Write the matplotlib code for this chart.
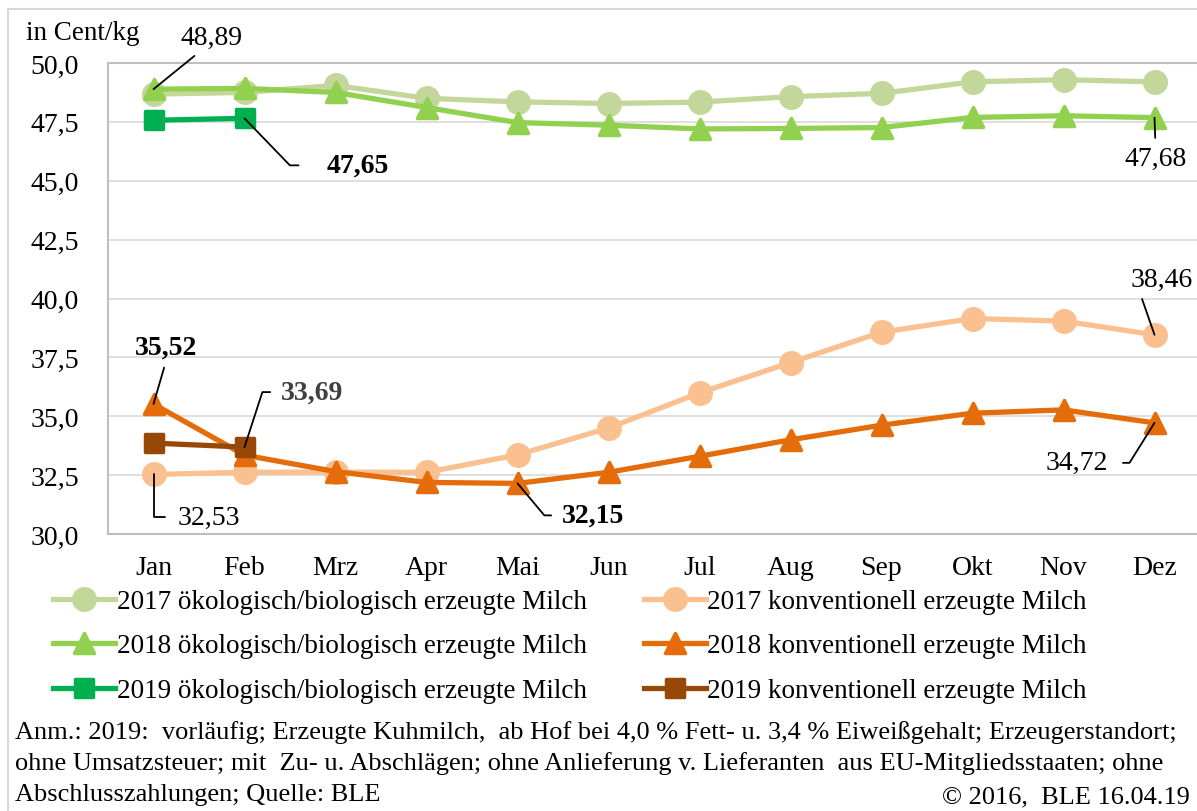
import numpy as np
import matplotlib
matplotlib.use("Agg")
import matplotlib.pyplot as plt
from matplotlib.markers import MarkerStyle
from matplotlib.patches import Rectangle

plt.rcParams["font.family"] = ["Liberation Serif", "DejaVu Serif"]

# Monate und Milchpreise (Cent/kg)
months = ["Jan", "Feb", "Mrz", "Apr", "Mai", "Jun", "Jul", "Aug", "Sep", "Okt", "Nov", "Dez"]
bio_2017 = [48.68, 48.75, 49.05, 48.50, 48.35, 48.28, 48.34, 48.57, 48.71, 49.20, 49.29, 49.20]
bio_2018 = [48.89, 48.92, 48.75, 48.11, 47.47, 47.36, 47.20, 47.22, 47.26, 47.69, 47.76, 47.68]
bio_2019 = [47.57, 47.65]
konv_2017 = [32.53, 32.62, 32.63, 32.62, 33.36, 34.50, 35.99, 37.28, 38.57, 39.15, 39.04, 38.46]
konv_2018 = [35.52, 33.35, 32.65, 32.19, 32.15, 32.62, 33.30, 34.00, 34.62, 35.13, 35.27, 34.72]
konv_2019 = [33.86, 33.69]

series = [
    ("2017 ökologisch/biologisch erzeugte Milch", bio_2017, "#c4d79b", "o"),
    ("2018 ökologisch/biologisch erzeugte Milch", bio_2018, "#92d050", "^"),
    ("2019 ökologisch/biologisch erzeugte Milch", bio_2019, "#00b050", "s"),
    ("2017 konventionell erzeugte Milch", konv_2017, "#fac090", "o"),
    ("2018 konventionell erzeugte Milch", konv_2018, "#e46c0a", "^"),
    ("2019 konventionell erzeugte Milch", konv_2019, "#974706", "s"),
]
msizes = {"o": 15.5, "^": 15, "s": 13.5}

W, H = 1197, 812
fig = plt.figure(figsize=(W / 100, H / 100), dpi=100)
ax = fig.add_axes([108 / W, 1 - 535 / H, 1092 / W, 471 / H])

# Rahmen um das ganze Bild
fig.patches.append(Rectangle((8 / W, -0.01), 1.0, 1 - 10 / H + 0.01, transform=fig.transFigure,
                             fill=False, edgecolor="#d9d9d9", linewidth=1.5))

handles = []
for name, vals, col, mk in series:
    x = np.arange(len(vals))
    ms = MarkerStyle(mk, joinstyle="round")
    ln, = ax.plot(x, vals, color=col, linewidth=3.8, marker=ms, markersize=msizes[mk],
                  markerfacecolor=col, markeredgecolor=col, markeredgewidth=2.5,
                  solid_joinstyle="round", label=name)
    handles.append(ln)

ax.set_xlim(-0.5, 11.5)
ax.set_ylim(30, 50)
ax.set_xticks(range(12))
ax.set_xticklabels(months)
yt = np.arange(30, 50.01, 2.5)
ax.set_yticks(yt)
ax.set_yticklabels([f"{v:.1f}".replace(".", ",") for v in yt])
ax.tick_params(length=0, labelsize=20)
ax.tick_params(axis="y", pad=21)
ax.tick_params(axis="x", pad=15)
ax.grid(axis="y", color="#d9d9d9", linewidth=1.2)
ax.set_axisbelow(True)
for s in ["left", "top", "bottom"]:
    ax.spines[s].set_color("#bfbfbf")
    ax.spines[s].set_linewidth(1.5)
ax.spines["right"].set_visible(False)


def label(vals, i, text, dx, dy, conn="arc3", relpos=(0.5, 0.5), shrink=4, bold=False, color="black"):
    ax.annotate(text, xy=(i, vals[i]), xytext=(dx, dy), textcoords="offset pixels",
                ha="center", va="center", fontsize=20, color=color,
                fontweight="bold" if bold else "normal",
                arrowprops=dict(arrowstyle="-", color="black", lw=1.3, connectionstyle=conn,
                                relpos=relpos, shrinkA=shrink, shrinkB=0))


label(bio_2018, 0, "48,89", 58, 52, relpos=(0.35, 0), shrink=4)
label(bio_2019, 1, "47,65", 113, -47, conn="angle,angleA=0,angleB=-46,rad=0", relpos=(0, 0.5), shrink=18, bold=True)
label(bio_2018, 11, "47,68", 1, -41, relpos=(0.5, 1), shrink=4)
label(konv_2017, 11, "38,46", 7, 55, relpos=(0.15, 0), shrink=3)
label(konv_2018, 0, "35,52", 13, 57, relpos=(0.5, 0), shrink=4, bold=True)
label(konv_2019, 1, "33,69", 68, 55, conn="angle,angleA=0,angleB=72,rad=0", relpos=(0, 0.5), shrink=6,
      bold=True, color="#404040")
label(konv_2017, 0, "32,53", 55, -43, conn="angle,angleA=0,angleB=90,rad=0", relpos=(0, 0.5), shrink=7)
label(konv_2018, 4, "32,15", 76, -32, conn="angle,angleA=0,angleB=-50,rad=0", relpos=(0, 0.5), shrink=6, bold=True)
label(konv_2018, 11, "34,72", -78, -40, conn="angle,angleA=0,angleB=58,rad=0", relpos=(1, 0.5), shrink=9)

fig.text(26 / W, 1 - 40 / H, "in Cent/kg", fontsize=19.5, va="baseline", ha="left")

fig.legend(handles, [s[0] for s in series], ncol=2,
           loc="upper left", bbox_to_anchor=(53 / W, 1 - 590 / H), bbox_transform=fig.transFigure,
           frameon=False, fontsize=19.5, handlelength=2.3, handletextpad=0.05, columnspacing=2.1,
           labelspacing=0.72, borderpad=0, borderaxespad=0)

notes = [
    "Anm.: 2019:  vorläufig; Erzeugte Kuhmilch,  ab Hof bei 4,0 % Fett- u. 3,4 % Eiweißgehalt; Erzeugerstandort;",
    "ohne Umsatzsteuer; mit  Zu- u. Abschlägen; ohne Anlieferung v. Lieferanten  aus EU-Mitgliedsstaaten; ohne",
    "Abschlusszahlungen; Quelle: BLE",
]
for k, line in enumerate(notes):
    fig.text(15 / W, 1 - (733 + 31 * k) / H, line, fontsize=19, va="center", ha="left")
fig.text(1190 / W, 1 - 797 / H, "© 2016,  BLE 16.04.19", fontsize=19, va="center", ha="right")

fig.savefig("out.png", dpi=100)
